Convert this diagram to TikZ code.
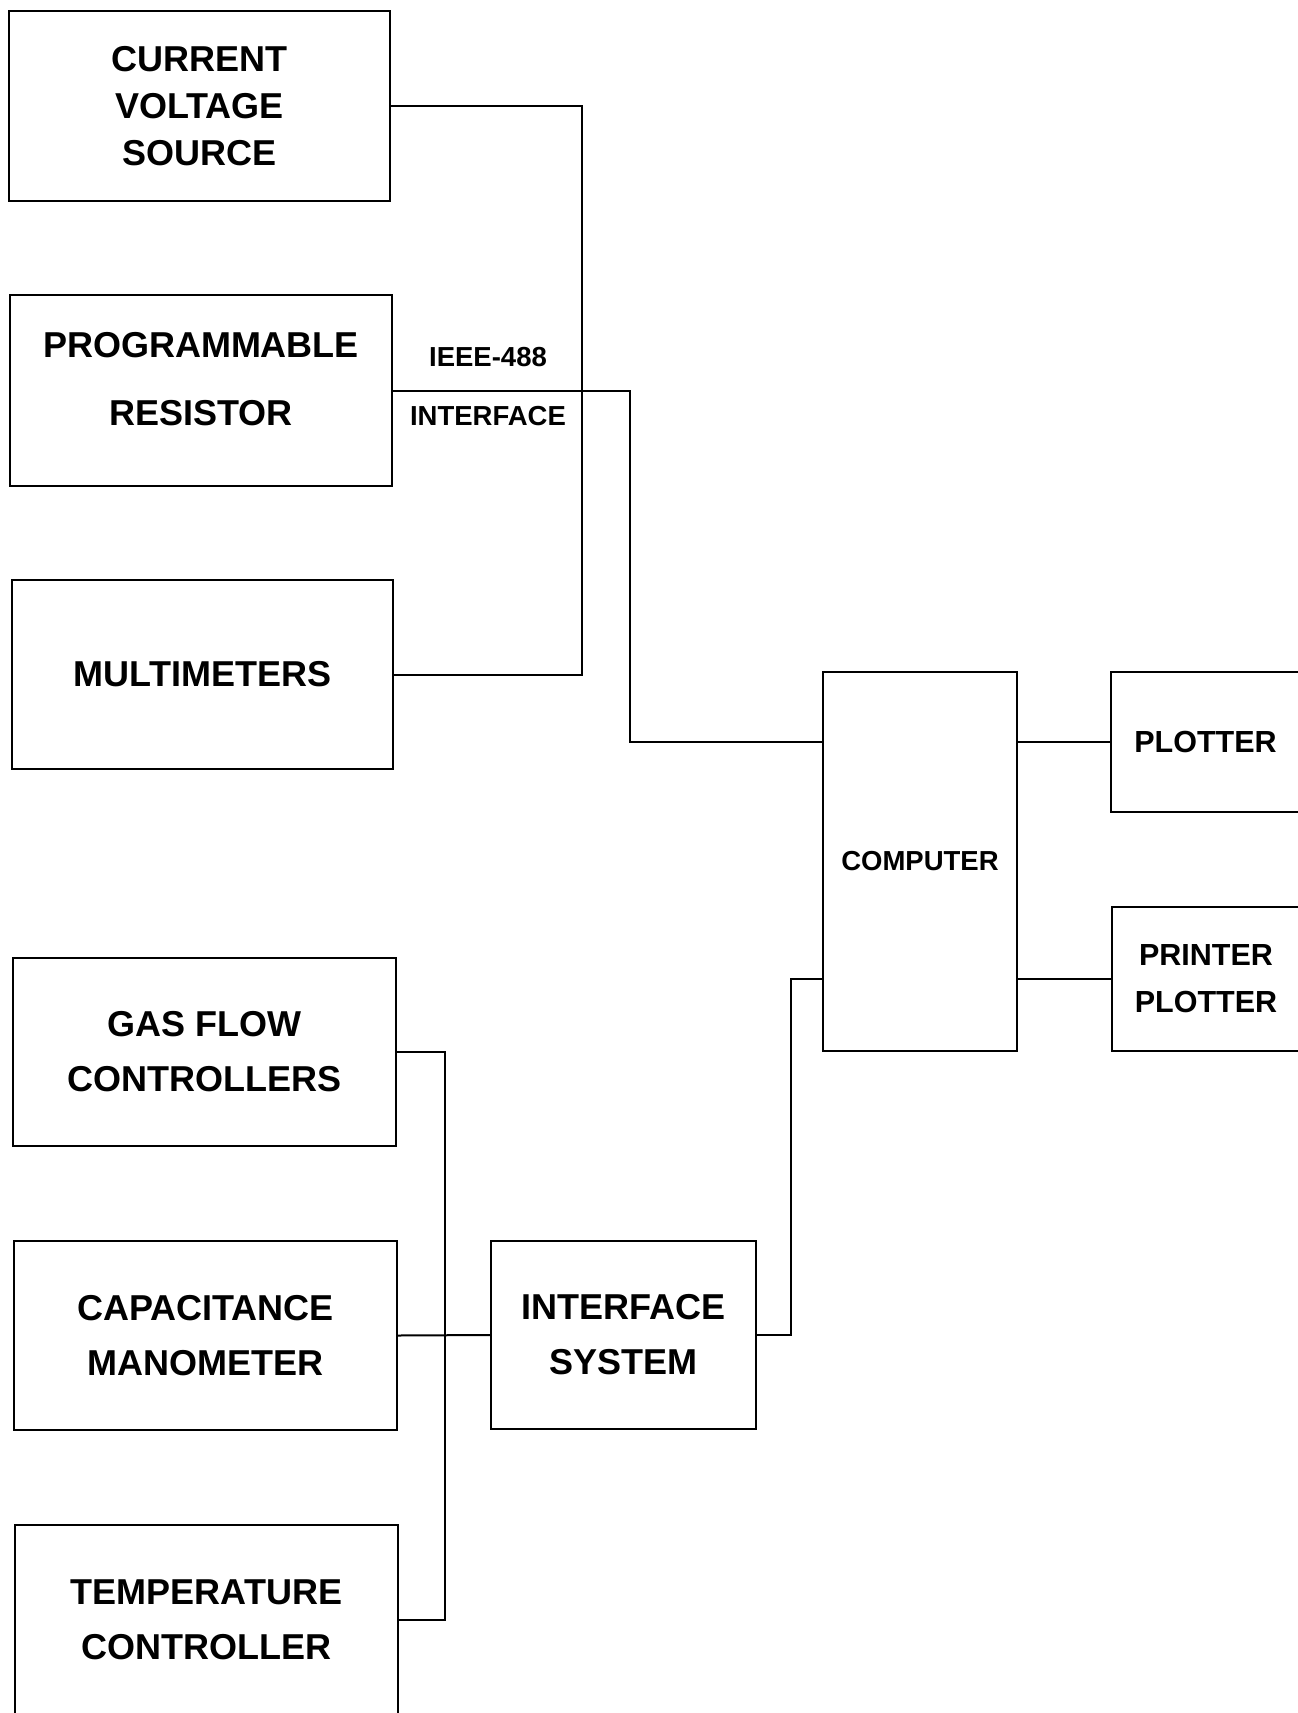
\documentclass[tikz,border=0pt]{standalone}
\usepackage{fontspec}
\setmainfont{Liberation Sans}
\begin{document}
\begin{tikzpicture}[x=1pt,y=-1pt,
  box/.style={draw,line width=2pt,rectangle,inner sep=0pt,align=center},
  bigA/.style={font=\bfseries\fontsize{36}{55}\selectfont},
  bigB/.style={font=\bfseries\fontsize{36}{47}\selectfont},
  midt/.style={font=\bfseries\fontsize{30.5}{47}\selectfont},
  smallt/.style={font=\bfseries\fontsize{27.5}{33}\selectfont},
  wire/.style={line width=2pt}]
\useasboundingbox (0,0) rectangle (1298,1713);
\fill[white] (0,0) rectangle (1298,1713);
\clip (0,0) rectangle (1298,1713);
% boxes
\node[box,bigB,minimum width=381pt,minimum height=190pt] (cvs) at (199.5,106) {CURRENT\\VOLTAGE\\SOURCE};
\node[box,minimum width=382pt,minimum height=191pt] (pr) at (201,390.5) {};
\node[bigA,font=\bfseries\fontsize{36}{68}\selectfont,align=center] (prtext) at (201,379) {PROGRAMMABLE\\RESISTOR};
\node[box,bigA,minimum width=381pt,minimum height=189pt] (mm) at (202.5,674.5) {MULTIMETERS};
\node[box,bigA,minimum width=383pt,minimum height=188pt] (gfc) at (204.5,1052) {GAS FLOW\\CONTROLLERS};
\node[box,bigA,minimum width=383pt,minimum height=189pt] (cm) at (205.5,1335.5) {CAPACITANCE\\MANOMETER};
\node[box,bigA,minimum width=383pt,minimum height=189pt] (tc) at (206.5,1619.5) {TEMPERATURE\\CONTROLLER};
\node[box,bigA,minimum width=265pt,minimum height=188pt] (is) at (623.5,1335) {INTERFACE\\SYSTEM};
\node[box,smallt,minimum width=194pt,minimum height=379pt] (comp) at (920,861.5) {COMPUTER};
\node[box,midt,minimum width=189pt,minimum height=140pt] (pl) at (1205.5,742) {PLOTTER};
\node[box,midt,minimum width=188pt,minimum height=144pt] (pp) at (1206,979) {PRINTER\\PLOTTER};
% labels
\node[smallt] (ieee) at (488,357) {IEEE-488};
\node[smallt] (iface) at (488,416) {INTERFACE};
% bus coordinates
\coordinate (b1) at (582,0);
\coordinate (b2) at (630,0);
\coordinate (b3) at (445,0);
\coordinate (b4) at (791,0);
% connectors
\draw[wire] (cvs.east) -| (b1 |- mm.east) -- (mm.east);
\draw[wire] (pr.east) -| (b2 |- pl.west) -- (comp.west |- pl.west);
\draw[wire] (gfc.east) -| (b3 |- tc.east) -- (tc.east);
\draw[wire] (cm.east) -- (is.west);
\draw[wire] (is.east) -| (b4 |- pp.west) -- (comp.west |- pp.west);
\draw[wire] (comp.east |- pl.west) -- (pl.west);
\draw[wire] (comp.east |- pp.west) -- (pp.west);
\end{tikzpicture}
\end{document}
